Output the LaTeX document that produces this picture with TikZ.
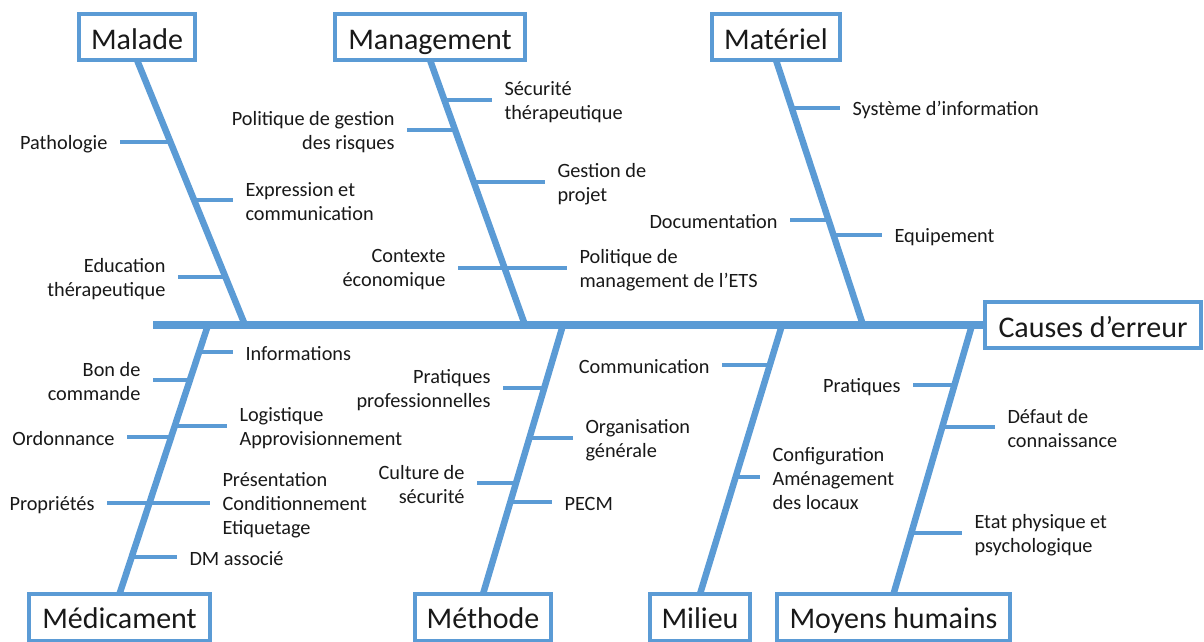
\documentclass[tikz,border=0pt]{standalone}
\usepackage{fontspec}
\setmainfont{Carlito}
\definecolor{bl}{RGB}{91,155,213}
\definecolor{tx}{RGB}{25,25,25}
\begin{document}
\begin{tikzpicture}[x=1pt,y=-1pt,
  catbox/.style={draw=bl, line width=4pt, inner xsep=0pt, inner ysep=0pt, outer sep=0pt,
    font=\fontsize{30}{35}\selectfont, text=tx, anchor=base},
  topbox/.style={catbox, text height=35pt, text depth=11pt},
  botbox/.style={catbox, text height=34pt, text depth=13pt},
  lbl/.style={inner xsep=12.5pt, inner ysep=0pt, outer sep=0pt, yshift=-2pt,
    font=\fontsize{20.3}{24}\selectfont, text=tx},
  lblL/.style={lbl, anchor=east, align=right},
  lblR/.style={lbl, anchor=west, align=left},
  spine/.style={draw=bl, line width=7.5pt},
  bone/.style={draw=bl, line width=6.5pt},
  sub/.style={draw=bl, line width=4.5pt},
]
\useasboundingbox (0,0) rectangle (1204,641);
\fill[white] (0,0) rectangle (1204,641);
\clip (0,0) rectangle (1204,641);

% category boxes
\node[topbox, minimum width=116pt] (malade) at (137,49) {Malade};
\node[topbox, minimum width=190pt] (manag) at (430,49) {Management};
\node[topbox, minimum width=128pt] (mater) at (776,49) {Matériel};
\node[topbox, minimum width=216pt] (causes) at (1093,337) {Causes d’erreur};
\node[botbox, minimum width=181pt] (medic) at (119.5,628) {Médicament};
\node[botbox, minimum width=136pt] (metho) at (483,628) {Méthode};
\node[botbox, minimum width=100pt] (milieu) at (700,628) {Milieu};
\node[botbox, minimum width=233pt] (moyens) at (893.5,628) {Moyens humains};

% spine
\coordinate (s0) at (153,325);
\draw[spine] (s0) -- (causes.west);

% bones
\coordinate (b1) at (245,325);
\coordinate (b2) at (525,325);
\coordinate (b3) at (863,325);
\coordinate (b4) at (208,325);
\coordinate (b5) at (563,325);
\coordinate (b6) at (782,325);
\coordinate (b7) at (972,325);
\draw[bone] (malade.south) -- (b1);
\draw[bone] (manag.south) -- (b2);
\draw[bone] (mater.south) -- (b3);
\draw[bone] (b4) -- (medic.north);
\draw[bone] (b5) -- (metho.north);
\draw[bone] (b6) -- (milieu.north);
\draw[bone] (b7) -- (moyens.north);

% Malade
\node[lblL] (pat) at (120,142) {Pathologie};
\coordinate (jpat) at (170.4,142);
\draw[sub] (pat.east |- jpat) -- (jpat);
\node[lblR] (expr) at (233,200) {Expression et\\communication};
\coordinate (jexpr) at (194.1,200);
\draw[sub] (jexpr) -- (expr.west |- jexpr);
\node[lblL] (edu) at (178,277) {Education\\thérapeutique};
\coordinate (jedu) at (225.4,277);
\draw[sub] (edu.east |- jedu) -- (jedu);

% Management
\node[lblR] (secu) at (492,100) {Sécurité\\thérapeutique};
\coordinate (jsecu) at (444.3,100);
\draw[sub] (jsecu) -- (secu.west |- jsecu);
\node[lblL] (polg) at (407,130) {Politique de gestion\\des risques};
\coordinate (jpolg) at (455.1,130);
\draw[sub] (polg.east |- jpolg) -- (jpolg);
\node[lblR] (gest) at (545,182) {Gestion de\\projet};
\coordinate (jgest) at (473.7,182);
\draw[sub] (jgest) -- (gest.west |- jgest);
\node[lblL] (ctx) at (458,268) {Contexte\\économique};
\node[lblR] (polm) at (567,268) {Politique de\\management de l’ETS};
\coordinate (jctx) at (504.6,268);
\draw[sub] (ctx.east |- jctx) -- (polm.west |- jctx);

% Materiel
\node[lblR] (sys) at (840,108) {Système d’information};
\coordinate (jsys) at (791.8,108);
\draw[sub] (jsys) -- (sys.west |- jsys);
\node[lblL] (doc) at (790,220) {Documentation};
\coordinate (jdoc) at (828.5,220);
\draw[sub] (doc.east |- jdoc) -- (jdoc);
\node[lblR] (equ) at (882,235) {Equipement};
\coordinate (jequ) at (833.5,235);
\draw[sub] (jequ) -- (equ.west |- jequ);

% Medicament
\node[lblR] (info) at (233,352) {Informations};
\coordinate (jinfo) at (199.1,352);
\draw[sub] (jinfo) -- (info.west |- jinfo);
\node[lblL] (bon) at (153,380) {Bon de\\commande};
\coordinate (jbon) at (189.9,380);
\draw[sub] (bon.east |- jbon) -- (jbon);
\node[lblR] (logi) at (227,426) {Logistique\\Approvisionnement};
\coordinate (jlogi) at (174.8,426);
\draw[sub] (jlogi) -- (logi.west |- jlogi);
\node[lblL] (ordo) at (127,437) {Ordonnance};
\coordinate (jordo) at (171.2,437);
\draw[sub] (ordo.east |- jordo) -- (jordo);
\node[lblL] (prop) at (107,503) {Propriétés};
\node[lblR] (pres) at (210,503) {Présentation\\Conditionnement\\Etiquetage};
\coordinate (jprop) at (149.4,503);
\draw[sub] (prop.east |- jprop) -- (pres.west |- jprop);
\node[lblR] (dm) at (177,557) {DM associé};
\coordinate (jdm) at (131.7,557);
\draw[sub] (jdm) -- (dm.west |- jdm);

% Methode
\node[lblL] (prat) at (503,388) {Pratiques\\professionnelles};
\coordinate (jprat) at (544.3,388);
\draw[sub] (prat.east |- jprat) -- (jprat);
\node[lblR] (orga) at (573,438) {Organisation\\générale};
\coordinate (jorga) at (529.4,438);
\draw[sub] (jorga) -- (orga.west |- jorga);
\node[lblL] (cult) at (477,483) {Culture de\\sécurité};
\coordinate (jcult) at (516,483);
\draw[sub] (cult.east |- jcult) -- (jcult);
\node[lblR] (pecm) at (552,502) {PECM};
\coordinate (jpecm) at (510.4,502);
\draw[sub] (jpecm) -- (pecm.west |- jpecm);

% Milieu
\node[lblL] (comm) at (722,365) {Communication};
\coordinate (jcomm) at (769.8,365);
\draw[sub] (comm.east |- jcomm) -- (jcomm);
\node[lblR] (conf) at (760,477) {Configuration\\Aménagement\\des locaux};
\coordinate (jconf) at (735.7,477);
\draw[sub] (jconf) -- (conf.west |- jconf);

% Moyens humains
\node[lblL] (pra2) at (913,385) {Pratiques};
\coordinate (jpra2) at (954.5,385);
\draw[sub] (pra2.east |- jpra2) -- (jpra2);
\node[lblR] (def) at (995,427) {Défaut de\\connaissance};
\coordinate (jdef) at (942.2,427);
\draw[sub] (jdef) -- (def.west |- jdef);
\node[lblR] (etat) at (962,533) {Etat physique et\\psychologique};
\coordinate (jetat) at (911.3,533);
\draw[sub] (jetat) -- (etat.west |- jetat);
\end{tikzpicture}
\end{document}
